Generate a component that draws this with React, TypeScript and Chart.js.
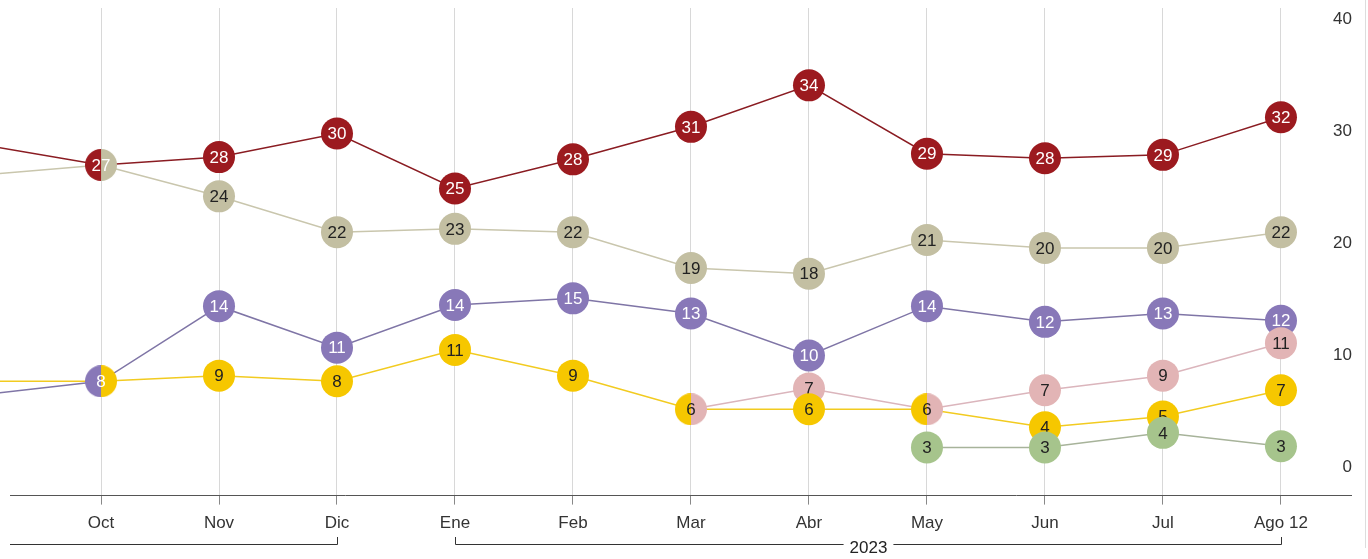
import React, { useEffect, useRef } from 'react';
import { Chart, registerables } from 'chart.js';

Chart.register(...registerables);

// ---------- data ----------
const months = ['Sep', 'Oct', 'Nov', 'Dic', 'Ene', 'Feb', 'Mar', 'Abr', 'May', 'Jun', 'Jul', 'Ago 12'];

const redValues = [28.8, 27.0, 27.7, 29.8, 24.9, 27.5, 30.4, 34.1, 28.0, 27.6, 27.9, 31.25];
const redLabels = [null, 27, 28, 30, 25, 28, 31, 34, 29, 28, 29, 32];

const beigeValues = [26.1, 27.0, 24.2, 21.0, 21.3, 21.0, 17.8, 17.3, 20.3, 19.6, 19.6, 21.0];
const beigeLabels = [null, null, 24, 22, 23, 22, 19, 18, 21, 20, 20, 22];

const purpleValues = [6.5, 7.7, 14.4, 10.7, 14.5, 15.1, 13.75, 10.0, 14.4, 13.0, 13.75, 13.1];
const purpleLabels = [null, 8, 14, 11, 14, 15, 13, 10, 14, 12, 13, 12];

const pinkValues = [null, null, null, null, null, null, 5.2, 7.05, 5.2, 6.9, 8.2, 11.1];
const pinkLabels = [null, null, null, null, null, null, null, 7, null, 7, 9, 11];

const yellowValues = [7.7, 7.7, 8.2, 7.7, 10.5, 8.2, 5.2, 5.2, 5.2, 3.6, 4.55, 6.9];
const yellowLabels = [null, null, 9, 8, 11, 9, 6, 6, 6, 4, 5, 7];

const greenValues = [null, null, null, null, null, null, null, null, 1.8, 1.8, 3.1, 1.9];
const greenLabels = [null, null, null, null, null, null, null, null, 3, 3, 4, 3];

const yTicks = [0, 10, 20, 30, 40];

// [series shown, series merged into right half, month index]
const splitDots: [string, string, number][] = [
  ['red', 'beige', 1],
  ['purple', 'yellow', 1],
  ['yellow', 'pink', 6],
  ['yellow', 'pink', 8],
];

const yearLabel = '2023';
const yearFrom = 4;
const yearTo = 11;
const prevYearTo = 3;

// ---------- styles ----------
const FONT = '"Liberation Sans", Arial, Helvetica, sans-serif';

const seriesStyle: Record<string, { dot: string; line: string; text: string; layer: number }> = {
  red: { dot: '#9c1a1f', line: '#8a1c22', text: '#ffffff', layer: 6 },
  beige: { dot: '#c3bfa2', line: '#c9c6ad', text: '#222222', layer: 7 },
  purple: { dot: '#8878b8', line: '#7f75a6', text: '#ffffff', layer: 5 },
  pink: { dot: '#e2b4b5', line: '#dbb5bc', text: '#222222', layer: 4 },
  yellow: { dot: '#f6c700', line: '#f2cb20', text: '#222222', layer: 3 },
  green: { dot: '#a6c48c', line: '#a7b39a', text: '#222222', layer: 2 },
};

const seriesData: { key: string; values: (number | null)[]; labels: (number | null)[] }[] = [
  { key: 'red', values: redValues, labels: redLabels },
  { key: 'beige', values: beigeValues, labels: beigeLabels },
  { key: 'purple', values: purpleValues, labels: purpleLabels },
  { key: 'pink', values: pinkValues, labels: pinkLabels },
  { key: 'yellow', values: yellowValues, labels: yellowLabels },
  { key: 'green', values: greenValues, labels: greenLabels },
];

const R = 16;

function splitDot(left: string, right: string): HTMLCanvasElement {
  const c = document.createElement('canvas');
  c.width = 2 * R;
  c.height = 2 * R;
  const ctx = c.getContext('2d')!;
  ctx.beginPath();
  ctx.arc(R, R, R, Math.PI / 2, Math.PI * 1.5);
  ctx.closePath();
  ctx.fillStyle = left;
  ctx.fill();
  ctx.beginPath();
  ctx.arc(R, R, R, -Math.PI / 2, Math.PI / 2);
  ctx.closePath();
  ctx.fillStyle = right;
  ctx.fill();
  return c;
}

const dotLabelPlugin = {
  id: 'dotLabels',
  afterDatasetDraw(chart: any, args: any) {
    const ds = chart.data.datasets[args.index];
    if (!ds.dotLabels) return;
    const ctx = chart.ctx;
    ctx.save();
    ctx.font = `17px ${FONT}`;
    ctx.textAlign = 'center';
    ctx.textBaseline = 'middle';
    ctx.fillStyle = ds.labelColor;
    args.meta.data.forEach((el: any, i: number) => {
      const t = ds.dotLabels[i];
      if (t == null || el.skip) return;
      ctx.fillText(String(t), el.x, el.y + 1);
    });
    ctx.restore();
  },
};

const axisLinePlugin = {
  id: 'axisLine',
  beforeDatasetsDraw(chart: any) {
    const ctx = chart.ctx;
    const yb = Math.round(chart.chartArea.bottom) + 0.5;
    ctx.save();
    ctx.strokeStyle = '#555';
    ctx.lineWidth = 1;
    ctx.beginPath();
    ctx.moveTo(10, yb);
    ctx.lineTo(chart.chartArea.right, yb);
    ctx.stroke();
    ctx.restore();
  },
};

const bracketPlugin = {
  id: 'brackets',
  afterDraw(chart: any) {
    const ctx = chart.ctx;
    const xs = chart.scales.x;
    const y = 544;
    const up = 7;
    ctx.save();
    ctx.strokeStyle = '#333';
    ctx.lineWidth = 1;
    const p3 = Math.round(xs.getPixelForValue(prevYearTo)) + 0.5;
    ctx.beginPath();
    ctx.moveTo(10, y + 0.5);
    ctx.lineTo(p3, y + 0.5);
    ctx.lineTo(p3, y - up);
    ctx.stroke();
    const a = Math.round(xs.getPixelForValue(yearFrom)) + 0.5;
    const b = Math.round(xs.getPixelForValue(yearTo)) + 0.5;
    const mid = (a + b) / 2;
    ctx.font = `17px ${FONT}`;
    const w = ctx.measureText(yearLabel).width / 2 + 6;
    ctx.beginPath();
    ctx.moveTo(a, y - up);
    ctx.lineTo(a, y + 0.5);
    ctx.lineTo(mid - w, y + 0.5);
    ctx.moveTo(mid + w, y + 0.5);
    ctx.lineTo(b, y + 0.5);
    ctx.lineTo(b, y - up);
    ctx.stroke();
    ctx.fillStyle = '#222';
    ctx.textAlign = 'center';
    ctx.textBaseline = 'middle';
    ctx.fillText(yearLabel, mid, y + 4);
    ctx.strokeStyle = '#dddddd';
    ctx.beginPath();
    ctx.moveTo(1365.5, 0);
    ctx.lineTo(1365.5, 548);
    ctx.stroke();
    ctx.restore();
  },
};

export default function App() {
  const ref = useRef<HTMLCanvasElement>(null);

  useEffect(() => {
    document.body.style.margin = '0';
    const canvas = ref.current;
    if (!canvas) return;

    const datasets: any[] = [];
    seriesData.forEach((s) => {
      const st = seriesStyle[s.key];
      datasets.push({
        label: s.key + '-line',
        data: s.values.map((v, i) => ({ x: i, y: v })),
        borderColor: st.line,
        borderWidth: 1.5,
        pointRadius: 0,
        showLine: true,
        spanGaps: false,
        order: 100,
      });
    });
    seriesData.forEach((s) => {
      const st = seriesStyle[s.key];
      const styles = s.values.map((_, i) => {
        const sp = splitDots.find((d) => d[0] === s.key && d[2] === i);
        return sp ? splitDot(st.dot, seriesStyle[sp[1]].dot) : 'circle';
      });
      const radii = s.values.map((_, i) => {
        if (i === 0) return 0;
        const hidden = splitDots.find((d) => d[1] === s.key && d[2] === i);
        return hidden ? 0 : R;
      });
      datasets.push({
        label: s.key,
        data: s.values.map((v, i) => ({ x: i, y: v })),
        showLine: false,
        pointRadius: radii,
        pointStyle: styles,
        pointBackgroundColor: st.dot,
        pointBorderWidth: 0,
        pointBorderColor: st.dot,
        order: st.layer,
        dotLabels: s.labels,
        labelColor: st.text,
      });
    });

    const chart = new Chart(canvas, {
      type: 'line',
      data: { datasets },
      options: {
        animation: false,
        responsive: true,
        maintainAspectRatio: false,
        layout: { autoPadding: false, padding: { top: 8, right: 16, bottom: 16, left: 0 } },
        plugins: { legend: { display: false }, tooltip: { enabled: false } },
        scales: {
          x: {
            type: 'linear',
            min: 0.144,
            max: 11.602,
            afterBuildTicks: (s: any) => {
              s.ticks = months.map((_, i) => ({ value: i })).slice(1);
            },
            afterFit: (s: any) => {
              s.paddingLeft = 0;
              s.paddingRight = 0;
            },
            ticks: {
              callback: (v: any) => months[v as number],
              color: '#333',
              font: { size: 17, family: FONT },
              padding: 9,
              autoSkip: false,
              maxRotation: 0,
            },
            grid: { color: '#d8d8d8', tickColor: '#888', tickLength: 10, drawTicks: true, lineWidth: 1 },
            border: { display: false },
          },
          y: {
            position: 'right',
            min: -2.41,
            max: 41,
            afterBuildTicks: (s: any) => {
              s.ticks = yTicks.map((v) => ({ value: v }));
            },
            afterFit: (s: any) => {
              s.width = 0;
              s.paddingTop = 0;
              s.paddingBottom = 0;
            },
            ticks: { mirror: true, padding: 0, color: '#333', font: { size: 17, family: FONT } },
            grid: { display: false },
            border: { display: false },
          },
        },
      },
      plugins: [axisLinePlugin, dotLabelPlugin, bracketPlugin],
    });

    return () => chart.destroy();
  }, []);

  return (
    <div style={{ position: 'relative', width: 1368, height: 559 }}>
      <canvas ref={ref} />
    </div>
  );
}
